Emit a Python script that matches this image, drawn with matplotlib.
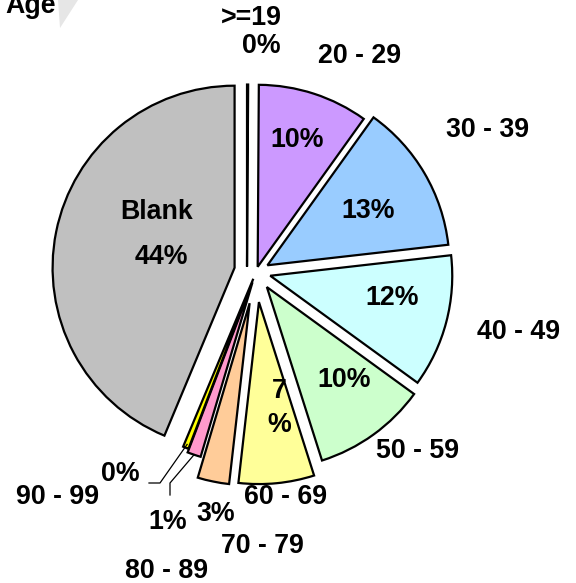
import matplotlib
matplotlib.use("Agg")
import matplotlib.pyplot as plt
import numpy as np
from matplotlib.patches import Polygon

# ---- data ----
categories = [">=19", "20 - 29", "30 - 39", "40 - 49", "50 - 59",
              "60 - 69", "70 - 79", "80 - 89", "90 - 99", "Blank"]
values = [0.1, 9.8, 13.3, 11.8, 10.1, 6.7, 2.8, 1.2, 0.5, 43.7]
pct_labels = ["0%", "10%", "13%", "12%", "10%", "7\n%", "3%", "1%", "0%", "44%"]
title = "Age"

# ---- style / layout ----
colors = ["#9999FF", "#CC99FF", "#99CCFF", "#CCFFFF", "#CCFFCC",
          "#FFFF99", "#FFCC99", "#FF99CC", "#FFFF00", "#C0C0C0"]
explode_frac = [0.03, 0.03, 0.073, 0.081, 0.102, 0.166, 0.175, 0.06, 0.04, 0.12]

W, H = 576, 583
fig = plt.figure(figsize=(W / 100, H / 100), dpi=100)
ax = fig.add_axes([0, 0, 1, 1])


def P(x, y):
    """pixel coords (top-left origin) -> data coords"""
    return x, H - y


font = dict(family=["Liberation Sans", "DejaVu Sans"], fontweight="bold",
            fontsize=19.3)

cx, cy = P(256, 272)
radius = 182
explode = [e * radius for e in explode_frac]
wedges, _ = ax.pie(values, colors=colors, explode=explode, startangle=90,
                   counterclock=False, radius=radius, center=(cx, cy),
                   normalize=True, frame=True,
                   wedgeprops=dict(edgecolor="black", linewidth=1.6))
# the zero-size ">=19" sliver sits slightly left of the pie centre
wx, wy = wedges[0].center
wedges[0].set_center((wx - 9, wy))

ax.set_xlim(0, W)
ax.set_ylim(0, H)
ax.set_aspect("auto")
ax.axis("off")

# label layout (pixel positions, top-left origin)
cat_pos = [(251, 18), (360, 56), (488, 130), (519, 332), (418, 451),
           (286, 497), (262, 546), (167, 571), (58, 497), (157, 212)]
pct_pos = [(261, 46), (297, 140), (368, 211), (392, 298), (344, 380),
           (279, 408), (216, 514), (168, 522), (120, 474), (161, 257)]

for i, name in enumerate(categories):
    x, y = P(*cat_pos[i])
    ax.text(x, y, name, ha="center", va="center", **font)
    x, y = P(*pct_pos[i])
    ax.text(x, y, pct_labels[i], ha="center", va="center",
            linespacing=1.35, **font)


def outer_point(w, frac=1.0):
    th = np.deg2rad((w.theta1 + w.theta2) / 2)
    cxw, cyw = w.center
    return cxw + w.r * frac * np.cos(th), cyw + w.r * frac * np.sin(th)


# leader lines for tiny slices
x0, y0 = outer_point(wedges[8], 0.98)
xa, ya = P(160, 483)
xb, yb = P(149, 483)
ax.plot([x0, xa, xb], [y0, ya, yb], color="black", lw=0.9)

x0, y0 = outer_point(wedges[7], 1.0)
xa, ya = P(170, 483)
xb, yb = P(170, 495)
ax.plot([x0, xa, xb], [y0, ya, yb], color="black", lw=0.9)

# title with decorative shadow shape
ax.add_patch(Polygon([P(58, 0), P(78, 0), P(60, 28)], closed=True,
                     facecolor="#E6E6E6", edgecolor="none", zorder=0))
tx, ty = P(5, 13)
ax.text(tx, ty, title, ha="left", va="baseline", **font)

fig.savefig("out.png", dpi=100)
